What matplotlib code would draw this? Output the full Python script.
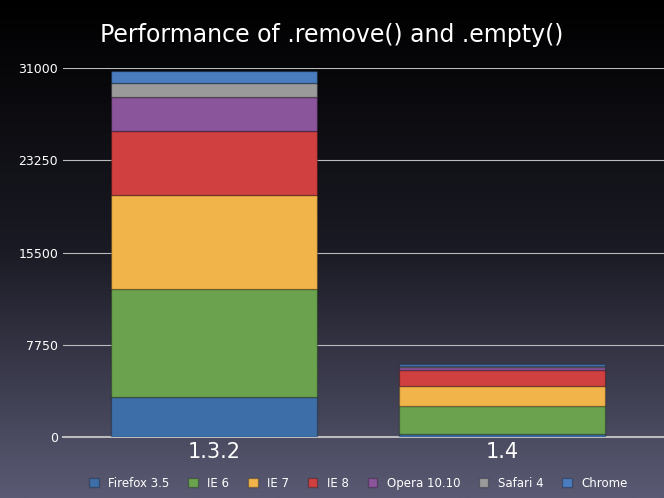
import matplotlib
matplotlib.use("Agg")
import matplotlib.pyplot as plt
import numpy as np

categories = ["1.3.2", "1.4"]
series = ["Firefox 3.5", "IE 6", "IE 7", "IE 8", "Opera 10.10", "Safari 4", "Chrome"]
values = {
    "Firefox 3.5": [3360, 250],
    "IE 6": [9070, 2400],
    "IE 7": [7900, 1630],
    "IE 8": [5370, 1350],
    "Opera 10.10": [2860, 250],
    "Safari 4": [1180, 120],
    "Chrome": [1010, 130],
}
colors = ["#3e6ea8", "#6aa24e", "#f0b44a", "#d04040", "#8a559a", "#9a9a9a", "#4a7cc0"]
yticks = [0, 7750, 15500, 23250, 31000]

fig = plt.figure(figsize=(6.64, 4.98), dpi=100)
bg = fig.add_axes([0, 0, 1, 1], zorder=-10)
grad = np.linspace(0, 1, 256).reshape(-1, 1)
from matplotlib.colors import LinearSegmentedColormap
cm = LinearSegmentedColormap.from_list("g", ["#000000", "#1a1a24", "#5a5a74"])
bg.imshow(grad, aspect="auto", cmap=cm, extent=[0, 1, 0, 1], origin="upper")
bg.axis("off")

ax = fig.add_axes([0.095, 0.122, 0.905, 0.741])
ax.patch.set_alpha(0)
x = np.arange(len(categories))
bottom = np.zeros(len(categories))
for s, c in zip(series, colors):
    v = np.array(values[s])
    ax.bar(x, v, bottom=bottom, width=0.715, color=c, edgecolor=(0, 0, 0, 0.25), linewidth=1, label=s, zorder=3)
    bottom += v
ax.set_xlim(-0.524, 1.563)
ax.set_ylim(0, 31000)
ax.set_yticks(yticks)
ax.set_yticklabels([str(t) for t in yticks], color="white", fontsize=9)
ax.set_xticks(x)
ax.set_xticklabels(categories, color="white", fontsize=15)
ax.tick_params(length=0)
ax.yaxis.grid(True, color="#bbbbbb", linewidth=0.8, zorder=0)
for sp in ["top", "right", "left"]:
    ax.spines[sp].set_visible(False)
ax.spines["bottom"].set_color("#bbbbbb")
ax.spines["bottom"].set_linewidth(1.5)
fig.text(0.5, 0.93, "Performance of .remove() and .empty()", color="white", fontsize=17, ha="center", va="center")
leg = fig.legend(loc="lower center", bbox_to_anchor=(0.54, -0.005), ncol=7, frameon=False, fontsize=8.5,
                 handlelength=0.8, handleheight=0.8, columnspacing=1.6, handletextpad=0.8)
for t in leg.get_texts():
    t.set_color("white")
fig.savefig("out.png", dpi=100)
